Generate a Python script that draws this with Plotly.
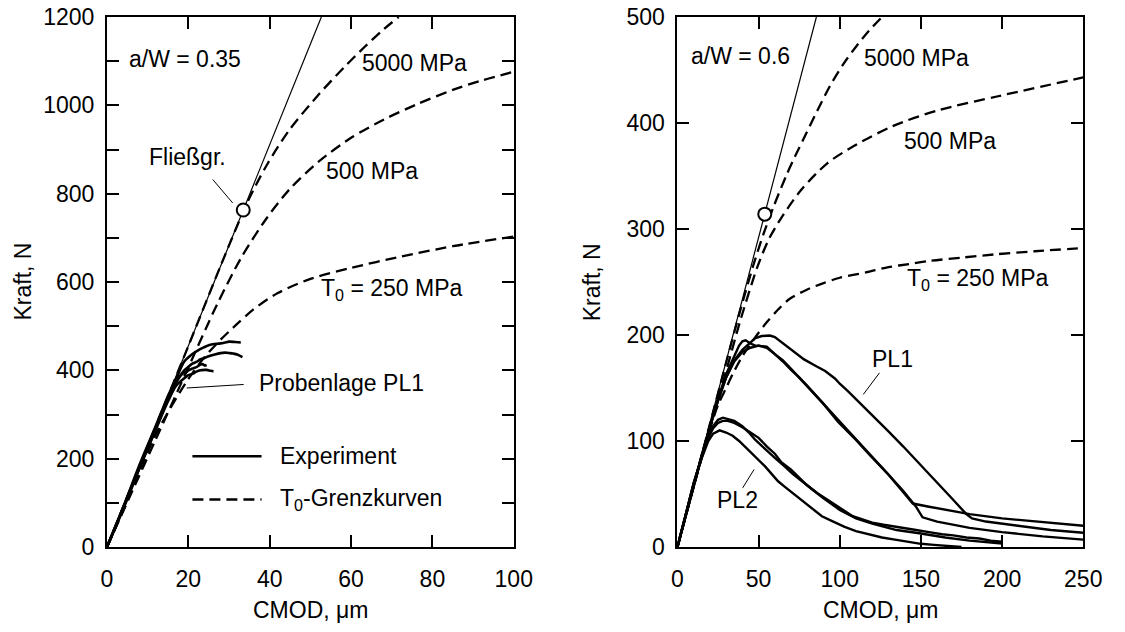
import plotly.graph_objects as go

FONT = "Liberation Sans, Arial, Helvetica, sans-serif"

# ---------------- Left panel: a/W = 0.35 ----------------
elastic_L_x = [0, 52.7]
elastic_L_y = [0, 1200]
yield_L_x = [33.5]
yield_L_y = [763]

t5000_L_x = [0, 10, 20, 28, 34.5, 39.3, 44.9, 52.1, 58.5, 63.3, 68, 71.7]
t5000_L_y = [0, 228, 455, 638, 780, 865, 945, 1025, 1088, 1132, 1172, 1200]
t500_L_x = [0, 6, 12, 19.2, 27, 33, 39.3, 44.9, 52.1, 60.1, 68.1, 76.1, 85, 92, 100]
t500_L_y = [0, 122, 244, 390, 548, 655, 745, 810, 873, 927, 968, 1002, 1035, 1056, 1076]
t250_L_x = [0, 6, 12, 19.9, 24, 28, 32, 36, 42, 49.7, 60, 72, 85, 100]
t250_L_y = [0, 125, 255, 379, 430, 470, 505, 538, 575, 606, 632, 657, 681, 703]

expL1_x = [0, 4, 8, 12, 15, 17, 19, 21, 22.5, 23.8, 25, 26, 27.9, 29, 30, 31.5, 32.9]
expL1_y = [0, 90, 186, 274, 342, 381, 420, 437, 446, 452, 457, 459, 461, 463, 465, 464, 463]
expL2_x = [0, 4, 8, 12, 15, 17, 19, 20, 21, 22, 23, 24, 25, 26.5, 27.9, 29, 30.2, 31, 32, 33.3]
expL2_y = [0, 88, 180, 268, 335, 372, 400, 408, 415, 419, 425, 428, 432, 436, 439, 440, 439, 438, 436, 430]
expL3_x = [0, 4, 8, 12, 15, 17, 18.5, 19.5, 20, 21, 22.1, 23, 23.5, 24, 24.5]
expL3_y = [0, 90, 182, 272, 338, 376, 392, 396, 400, 404, 408, 413, 414, 411, 412]
expL4_x = [0, 4, 8, 12, 15, 17, 19, 20, 21, 22, 23, 24, 24.5, 25.5, 26.2]
expL4_y = [0, 86, 178, 266, 330, 365, 382, 389, 392, 397, 400, 401, 401, 399, 398]

# ---------------- Right panel: a/W = 0.6 ----------------
elastic_R_x = [0, 85.6]
elastic_R_y = [0, 500]
yield_R_x = [53.8]
yield_R_y = [314]

t5000_R_x = [0, 10, 20, 30, 39.2, 47.2, 53.2, 59.2, 67.2, 72.3, 79.3, 86.3, 94, 102.4, 110, 118, 126]
t5000_R_y = [0, 58, 116, 174, 226, 268, 296, 321, 351, 368, 390, 412, 435, 456, 472, 487, 500]
t500_R_x = [0, 10, 20, 30, 39.2, 49.2, 56.2, 64.2, 76.3, 92.3, 108.4, 132.5, 160.6, 196.8, 250]
t500_R_y = [0, 57, 113, 166, 216, 264, 290, 311, 337, 362, 378, 397, 412, 425, 443]
t250_R_x = [0, 10, 20, 25, 30, 34, 40, 48, 55, 62, 69, 80, 90, 100, 116, 130, 143, 156, 175, 195, 220, 250]
t250_R_y = [0, 57, 111, 134, 150, 163, 180, 198, 212, 224, 234, 243, 249, 254, 259, 264, 267, 270, 273, 276, 279, 282]

# PL1 specimens
pl1A_x = [0, 5, 10, 15, 20, 25, 30, 35, 40, 45, 48, 52, 57, 60, 65, 70, 78, 85, 91, 97, 100, 105, 111,
          117, 123, 130, 139, 149, 159, 169, 178, 181.5, 190, 200, 215, 230, 250]
pl1A_y = [0, 29, 58, 87, 113, 138, 160, 176, 186, 193, 197, 199, 199.5, 198, 192, 186, 177, 171, 166, 159,
          154, 147, 138, 129, 120, 109, 95, 79, 63, 46, 31, 27, 24, 22, 19, 16, 13.5]
pl1B_x = [0, 5, 10, 15, 20, 25, 30, 35, 38, 40, 42, 45, 48, 52, 55, 60, 65, 70, 75, 80, 85, 90, 99, 110,
          119, 129, 139, 145, 155, 165, 180, 200, 220, 250]
pl1B_y = [0, 29, 58, 87, 114, 140, 163, 180, 190, 194, 195, 192, 190, 189.5, 189, 182, 176, 168, 160, 151,
          143, 135, 118, 101, 86, 70, 52, 41, 38, 35, 31, 27, 24, 20]
pl1C_x = [0, 5, 10, 15, 20, 25, 30, 35, 40, 45, 50, 55, 60, 65, 70, 75, 80, 85, 90, 99, 110, 119, 129, 139,
          147, 151, 160, 180, 200, 225, 250]
pl1C_y = [0, 29, 58, 86, 113, 138, 160, 175, 184, 188, 190, 188, 182, 175, 167, 160, 152, 144, 135, 120,
          102, 87, 70, 53, 38, 28, 24, 18, 14, 10, 7]

# PL2 specimens
pl2D_x = [0, 5, 10, 15, 19, 22, 25, 28, 31, 35, 40, 44, 48, 53, 56, 60, 66, 71, 76, 81, 86, 92, 98, 104,
          108, 114, 120, 127, 134, 140, 147, 155, 163, 170, 178, 186, 193, 200]
pl2D_y = [0, 30, 60, 86, 104, 114, 120, 122, 121, 119, 114, 108, 101, 94, 89, 84, 76, 69, 63, 57, 51, 45,
          39, 33, 29, 26, 23, 21, 19, 17.5, 16, 14, 12, 11, 9, 8, 6, 5]
pl2E_x = [0, 5, 10, 15, 19, 22, 25, 28, 31, 35, 40, 45, 50, 55, 60, 64, 70, 80, 90, 100, 110, 120, 135,
          149, 165, 180, 198, 200]
pl2E_y = [0, 30, 60, 85, 103, 112, 117, 119, 119, 117, 113, 108, 103, 95, 88, 80, 73, 58, 46, 35, 27, 22,
          16, 13, 9, 6, 3.5, 3.3]
pl2F_x = [0, 5, 10, 15, 19, 22, 26, 30, 34, 38, 42, 46, 50, 54, 58, 62, 66, 70, 76, 82, 89, 96, 103, 110,
          118, 126, 134, 142, 150, 158, 166, 175]
pl2F_y = [0, 30, 60, 84, 100, 107, 110, 108, 105, 100, 94, 88, 82, 76, 69, 62, 57, 52, 45, 37, 29, 24,
          19, 15, 12, 9, 7, 5, 3, 2, 1, 0]

# legend sample lines (left panel data coordinates)
legend_x = [21, 38]
legend_solid_y = [205.6, 205.6]
legend_dash_y = [107.5, 107.5]

fig = go.Figure()


def line(x, y, xa, ya, width, dash=None, shape="linear"):
    fig.add_trace(go.Scatter(
        x=x, y=y, xaxis=xa, yaxis=ya, mode="lines",
        line=dict(color="black", width=width, dash=dash, shape=shape,
                  smoothing=0.8 if shape == "spline" else None),
        showlegend=False, hoverinfo="skip"))


DASH = "11px,6px"

# left panel
line(elastic_L_x, elastic_L_y, "x", "y", 1.2)
line(t5000_L_x, t5000_L_y, "x", "y", 2.3, DASH, "spline")
line(t500_L_x, t500_L_y, "x", "y", 2.3, DASH, "spline")
line(t250_L_x, t250_L_y, "x", "y", 2.3, DASH, "spline")
for ex, ey in [(expL1_x, expL1_y), (expL2_x, expL2_y), (expL3_x, expL3_y), (expL4_x, expL4_y)]:
    line(ex, ey, "x", "y", 2.6, None, "spline")
line(legend_x, legend_solid_y, "x", "y", 2.5)
line(legend_x, legend_dash_y, "x", "y", 2.3, DASH)
# leader lines left
line([26, 30.9], [832, 779], "x", "y", 1)
line([19.6, 33.6], [360, 368], "x", "y", 1)
fig.add_trace(go.Scatter(x=yield_L_x, y=yield_L_y, xaxis="x", yaxis="y", mode="markers",
                         marker=dict(size=13, color="white", line=dict(color="black", width=2)),
                         showlegend=False, hoverinfo="skip"))

# right panel
line(elastic_R_x, elastic_R_y, "x2", "y2", 1.2)
line(t5000_R_x, t5000_R_y, "x2", "y2", 2.3, DASH, "spline")
line(t500_R_x, t500_R_y, "x2", "y2", 2.3, DASH, "spline")
line(t250_R_x, t250_R_y, "x2", "y2", 2.3, DASH, "spline")
for ex, ey in [(pl1A_x, pl1A_y), (pl1B_x, pl1B_y), (pl1C_x, pl1C_y),
               (pl2D_x, pl2D_y), (pl2E_x, pl2E_y), (pl2F_x, pl2F_y)]:
    line(ex, ey, "x2", "y2", 2.4)
line([124.5, 114.5], [164.3, 143.9], "x2", "y2", 1)
line([47.2, 40.2], [73.1, 55.8], "x2", "y2", 1)
fig.add_trace(go.Scatter(x=yield_R_x, y=yield_R_y, xaxis="x2", yaxis="y2", mode="markers",
                         marker=dict(size=13, color="white", line=dict(color="black", width=2)),
                         showlegend=False, hoverinfo="skip"))

TF = dict(family=FONT, size=23, color="black")


def ann(text, x, y, xref, yref, xanchor="left", yanchor="middle", angle=0):
    fig.add_annotation(text=text, x=x, y=y, xref=xref, yref=yref, xanchor=xanchor,
                       yanchor=yanchor, showarrow=False, font=TF, textangle=angle)


ann("a/W = 0.35", 5, 1105, "x", "y")
ann("5000 MPa", 62.1, 1096, "x", "y")
ann("500 MPa", 53.3, 851, "x", "y")
ann("T<sub>0</sub> = 250 MPa", 52, 583, "x", "y")
ann("Fließgr.", 29.7, 882, "x", "y", xanchor="right")
ann("Probenlage PL1", 36.8, 372, "x", "y")
ann("Experiment", 42.1, 205.6, "x", "y")
ann("T<sub>0</sub>-Grenzkurven", 42.1, 107.5, "x", "y")

ann("a/W = 0.6", 7, 463, "x2", "y2")
ann("5000 MPa", 113.4, 461.5, "x2", "y2")
ann("500 MPa", 138.5, 383, "x2", "y2")
ann("T<sub>0</sub> = 250 MPa", 140.5, 252, "x2", "y2")
ann("PL1", 118.4, 177, "x2", "y2")
ann("PL2", 23.1, 44.8, "x2", "y2")

ann("Kraft, N", 0.015, 0.5, "paper", "paper", xanchor="center", angle=-90)
ann("Kraft, N", 0.533, 0.5, "paper", "paper", xanchor="center", angle=-90)
ann("CMOD, μm", 0.2768, -0.118, "paper", "paper", xanchor="center")
ann("CMOD, μm", 0.7947, -0.118, "paper", "paper", xanchor="center")

axis_common = dict(showline=True, linecolor="black", linewidth=2, mirror="ticks",
                   ticks="inside", ticklen=12, tickwidth=2, tickcolor="black",
                   showgrid=False, zeroline=False, tickfont=TF)

fig.update_layout(
    width=1125, height=632,
    margin=dict(l=0, r=0, t=17, b=85),
    plot_bgcolor="white", paper_bgcolor="white",
    showlegend=False,
    xaxis=dict(domain=[0.0918, 0.4616], range=[0, 100], tick0=0, dtick=20, anchor="y",
               ticklabelstandoff=10, **axis_common),
    yaxis=dict(domain=[0, 1], range=[0, 1200], tick0=0, dtick=200, anchor="x",
               ticklabelstandoff=6,
               minor=dict(dtick=100, ticks="inside", ticklen=12, tickwidth=2, tickcolor="black"),
               **axis_common),
    xaxis2=dict(domain=[0.6104, 0.9793], range=[0, 250], tick0=0, dtick=50, anchor="y2",
                ticklabelstandoff=10, **axis_common),
    yaxis2=dict(domain=[0, 1], range=[0, 500], tick0=0, dtick=100, anchor="x2",
                ticklabelstandoff=6, **axis_common),
)

fig.write_html("out.html",
               config={"displayModeBar": False},
               post_script="document.body.style.margin='0px';document.body.style.overflow='hidden';")
